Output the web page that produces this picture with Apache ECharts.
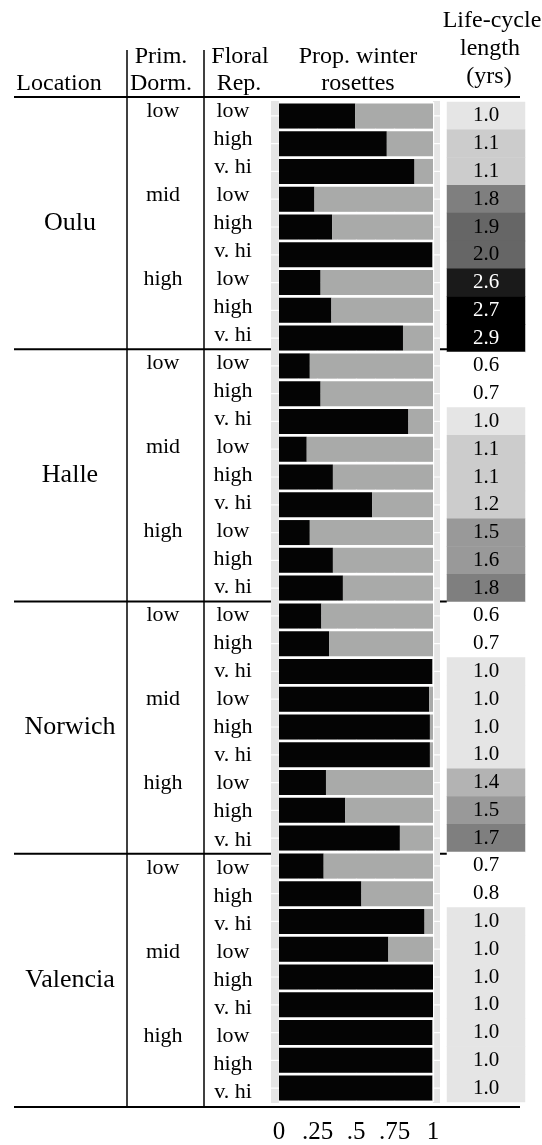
<!DOCTYPE html>
<html>
<head>
<meta charset="utf-8">
<script src="https://cdn.jsdelivr.net/npm/echarts@6/dist/echarts.min.js"></script>
<style>
  html, body { margin: 0; padding: 0; background: #ffffff; }
  #chart { width: 542px; height: 1145px; }
</style>
</head>
<body>
<div id="chart"></div>
<script>
// Table factors
const locations = ['Oulu', 'Halle', 'Norwich', 'Valencia'];
const primDormLevels = ['low', 'mid', 'high'];
const floralLevels = ['low', 'high', 'v. hi'];

// Proportion of plants forming winter rosettes (rows: dorm low/mid/high x floral low/high/v. hi)
const rosettesOulu     = [0.495, 0.70, 0.88, 0.23, 0.345, 0.995, 0.27, 0.34, 0.805];
const rosettesHalle    = [0.20, 0.27, 0.84, 0.18, 0.35, 0.605, 0.20, 0.35, 0.415];
const rosettesNorwich  = [0.275, 0.325, 0.995, 0.975, 0.98, 0.98, 0.305, 0.43, 0.785];
const rosettesValencia = [0.29, 0.535, 0.945, 0.71, 1.0, 1.0, 0.995, 0.995, 0.995];

// Life-cycle length in years
const lifeOulu     = [1.0, 1.1, 1.1, 1.8, 1.9, 2.0, 2.6, 2.7, 2.9];
const lifeHalle    = [0.6, 0.7, 1.0, 1.1, 1.1, 1.2, 1.5, 1.6, 1.8];
const lifeNorwich  = [0.6, 0.7, 1.0, 1.0, 1.0, 1.0, 1.4, 1.5, 1.7];
const lifeValencia = [0.7, 0.8, 1.0, 1.0, 1.0, 1.0, 1.0, 1.0, 1.0];

// Proportion axis ticks
const propTicks = [0, 0.25, 0.5, 0.75, 1];
const propTickLabels = ['0', '.25', '.5', '.75', '1'];

const FONT = 'Liberation Serif';

const rosettes = [].concat(rosettesOulu, rosettesHalle, rosettesNorwich, rosettesValencia);
const nonRosettes = rosettes.map(v => Math.max(0, 1 - v));
const lifeCycle = [].concat(lifeOulu, lifeHalle, lifeNorwich, lifeValencia);

// One row per location x dormancy x floral combination
const floralCol = [], dormCol = [], locCol = [];
locations.forEach(loc => primDormLevels.forEach((pd, pi) => floralLevels.forEach((fr, fi) => {
  floralCol.push(fr);
  dormCol.push(fi === 0 ? pd : '');
  locCol.push(pi === 1 && fi === 1 ? loc : '');
})));
const nRows = floralCol.length;

// Layout: bar panel, life-cycle column, and the text table between the rules
const headerY = 97, bottomY = 1107;
const G = { left: 279, top: 102, width: 154, height: 1000 };
const L = { left: 447, top: 102, width: 78, height: 1000 };
const T = { left: 279, top: headerY, width: 154, height: bottomY - headerY - 1 };
const rowH = G.height / nRows;
const tableRowH = T.height / nRows;
const panel = { x: 271, y: 101, w: 169, h: 1002 };
const tableLeft = 14, tableRight = 520;

const chart = echarts.init(document.getElementById('chart'), null, { renderer: 'canvas' });

const lifeData = lifeCycle.map((v, i) => ({
  value: [0, i, v],
  label: { color: v >= 2.5 ? '#ffffff' : '#000000' }
}));

const graphics = [];
// panel background
graphics.push({ type: 'rect', z: -10, silent: true,
  shape: { x: panel.x, y: panel.y, width: panel.w, height: panel.h },
  style: { fill: '#e5e5e5' } });
// major horizontal grid at row centres
for (let i = 0; i < nRows; i++) {
  const y = G.top + (i + 0.5) * rowH;
  graphics.push({ type: 'line', z: -9, silent: true,
    shape: { x1: panel.x, y1: y, x2: panel.x + panel.w, y2: y },
    style: { stroke: '#ffffff', lineWidth: 1.2 } });
}
// separators between locations
for (let k = 1; k < locations.length; k++) {
  const y = T.top + k * 9 * tableRowH;
  graphics.push({ type: 'line', z: -11, silent: true,
    shape: { x1: tableLeft, y1: y, x2: L.left, y2: y },
    style: { stroke: '#000000', lineWidth: 2 } });
}
// header and bottom rules
[headerY, bottomY].forEach(y => graphics.push({ type: 'line', z: 20, silent: true,
  shape: { x1: tableLeft, y1: y, x2: tableRight, y2: y },
  style: { stroke: '#000000', lineWidth: 2 } }));
// column dividers
[127, 204].forEach(x => graphics.push({ type: 'line', z: 20, silent: true,
  shape: { x1: x, y1: 50, x2: x, y2: bottomY },
  style: { stroke: '#000000', lineWidth: 1.5 } }));
// header text
const headers = [
  ['Location', 59, 84], ['Prim.', 161, 57], ['Dorm.', 161, 84],
  ['Floral', 240, 57], ['Rep.', 239, 84],
  ['Prop. winter', 358, 57], ['rosettes', 358, 84],
  ['Life-cycle', 492, 21], ['length', 490, 49], ['(yrs)', 489, 77]
];
headers.forEach(([t, x, y]) => graphics.push({ type: 'text', z: 20, silent: true,
  x: x, y: y,
  style: { text: t, fill: '#000000', font: '24px "' + FONT + '"', align: 'center', verticalAlign: 'middle' } }));

const hiddenAxisBits = { axisLine: { show: false }, axisTick: { show: false }, splitLine: { show: false } };

chart.setOption({
  animation: false,
  backgroundColor: '#ffffff',
  grid: [
    { left: G.left, top: G.top, width: G.width, height: G.height, outerBoundsMode: 'none' },
    { left: L.left, top: L.top, width: L.width, height: L.height, outerBoundsMode: 'none' },
    { left: T.left, top: T.top, width: T.width, height: T.height, outerBoundsMode: 'none' }
  ],
  xAxis: [
    { type: 'value', gridIndex: 0, min: 0, max: 1, interval: 0.25,
      axisLine: { show: false }, axisTick: { show: false },
      axisLabel: { margin: 18, color: '#000000', fontFamily: FONT, fontSize: 25,
        formatter: v => { const i = propTicks.findIndex(t => Math.abs(t - v) < 1e-9); return i >= 0 ? propTickLabels[i] : ''; } },
      splitLine: { show: true, lineStyle: { color: '#ffffff', width: 1.3 } },
      minorTick: { show: false, splitNumber: 2 },
      minorSplitLine: { show: true, lineStyle: { color: '#ffffff', width: 0.7 } } },
    { type: 'category', gridIndex: 1, data: ['life'], show: false },
    { type: 'value', gridIndex: 2, min: 0, max: 1, show: false }
  ],
  yAxis: [
    // bar rows
    { type: 'category', gridIndex: 0, data: floralCol, inverse: true, show: true,
      axisLine: { show: false }, axisTick: { show: false }, axisLabel: { show: false },
      splitLine: { show: true, interval: 0, lineStyle: { color: '#ffffff', width: 3 } } },
    // life-cycle rows
    { type: 'category', gridIndex: 1, data: floralCol.map((_, i) => i), inverse: true, show: false },
    // table text columns
    { type: 'category', gridIndex: 2, data: floralCol, inverse: true, position: 'left',
      ...hiddenAxisBits,
      axisLabel: { interval: 0, margin: 46, align: 'center', color: '#000000', fontFamily: FONT, fontSize: 22 } },
    { type: 'category', gridIndex: 2, data: dormCol, inverse: true, position: 'left',
      ...hiddenAxisBits,
      axisLabel: { interval: 0, margin: 116, align: 'center', color: '#000000', fontFamily: FONT, fontSize: 22 } },
    { type: 'category', gridIndex: 2, data: locCol, inverse: true, position: 'left',
      ...hiddenAxisBits,
      axisLabel: { interval: 0, margin: 209, align: 'center', color: '#000000', fontFamily: FONT, fontSize: 26 } }
  ],
  visualMap: {
    type: 'piecewise', show: false, seriesIndex: 2, dimension: 2,
    pieces: [
      { lt: 0.95, color: '#ffffff' },
      { gte: 0.95, lt: 1.05, color: '#e5e5e5' },
      { gte: 1.05, lt: 1.25, color: '#cccccc' },
      { gte: 1.25, lt: 1.45, color: '#b3b3b3' },
      { gte: 1.45, lt: 1.65, color: '#999999' },
      { gte: 1.65, lt: 1.85, color: '#7f7f7f' },
      { gte: 1.85, lt: 2.05, color: '#666666' },
      { gte: 2.05, lt: 2.25, color: '#4d4d4d' },
      { gte: 2.25, lt: 2.45, color: '#333333' },
      { gte: 2.45, lt: 2.65, color: '#1a1a1a' },
      { gte: 2.65, color: '#000000' }
    ]
  },
  series: [
    { name: 'rosette', type: 'bar', stack: 'p', xAxisIndex: 0, yAxisIndex: 0,
      barWidth: '90%', itemStyle: { color: '#040404' }, data: rosettes },
    { name: 'no rosette', type: 'bar', stack: 'p', xAxisIndex: 0, yAxisIndex: 0,
      barWidth: '90%', itemStyle: { color: '#a9aaa9' }, data: nonRosettes },
    { name: 'life-cycle', type: 'heatmap', xAxisIndex: 1, yAxisIndex: 1,
      label: { show: true, fontFamily: FONT, fontSize: 21,
        formatter: p => p.value[2].toFixed(1) },
      emphasis: { disabled: true },
      data: lifeData }
  ],
  graphic: { elements: graphics }
});
</script>
</body>
</html>
